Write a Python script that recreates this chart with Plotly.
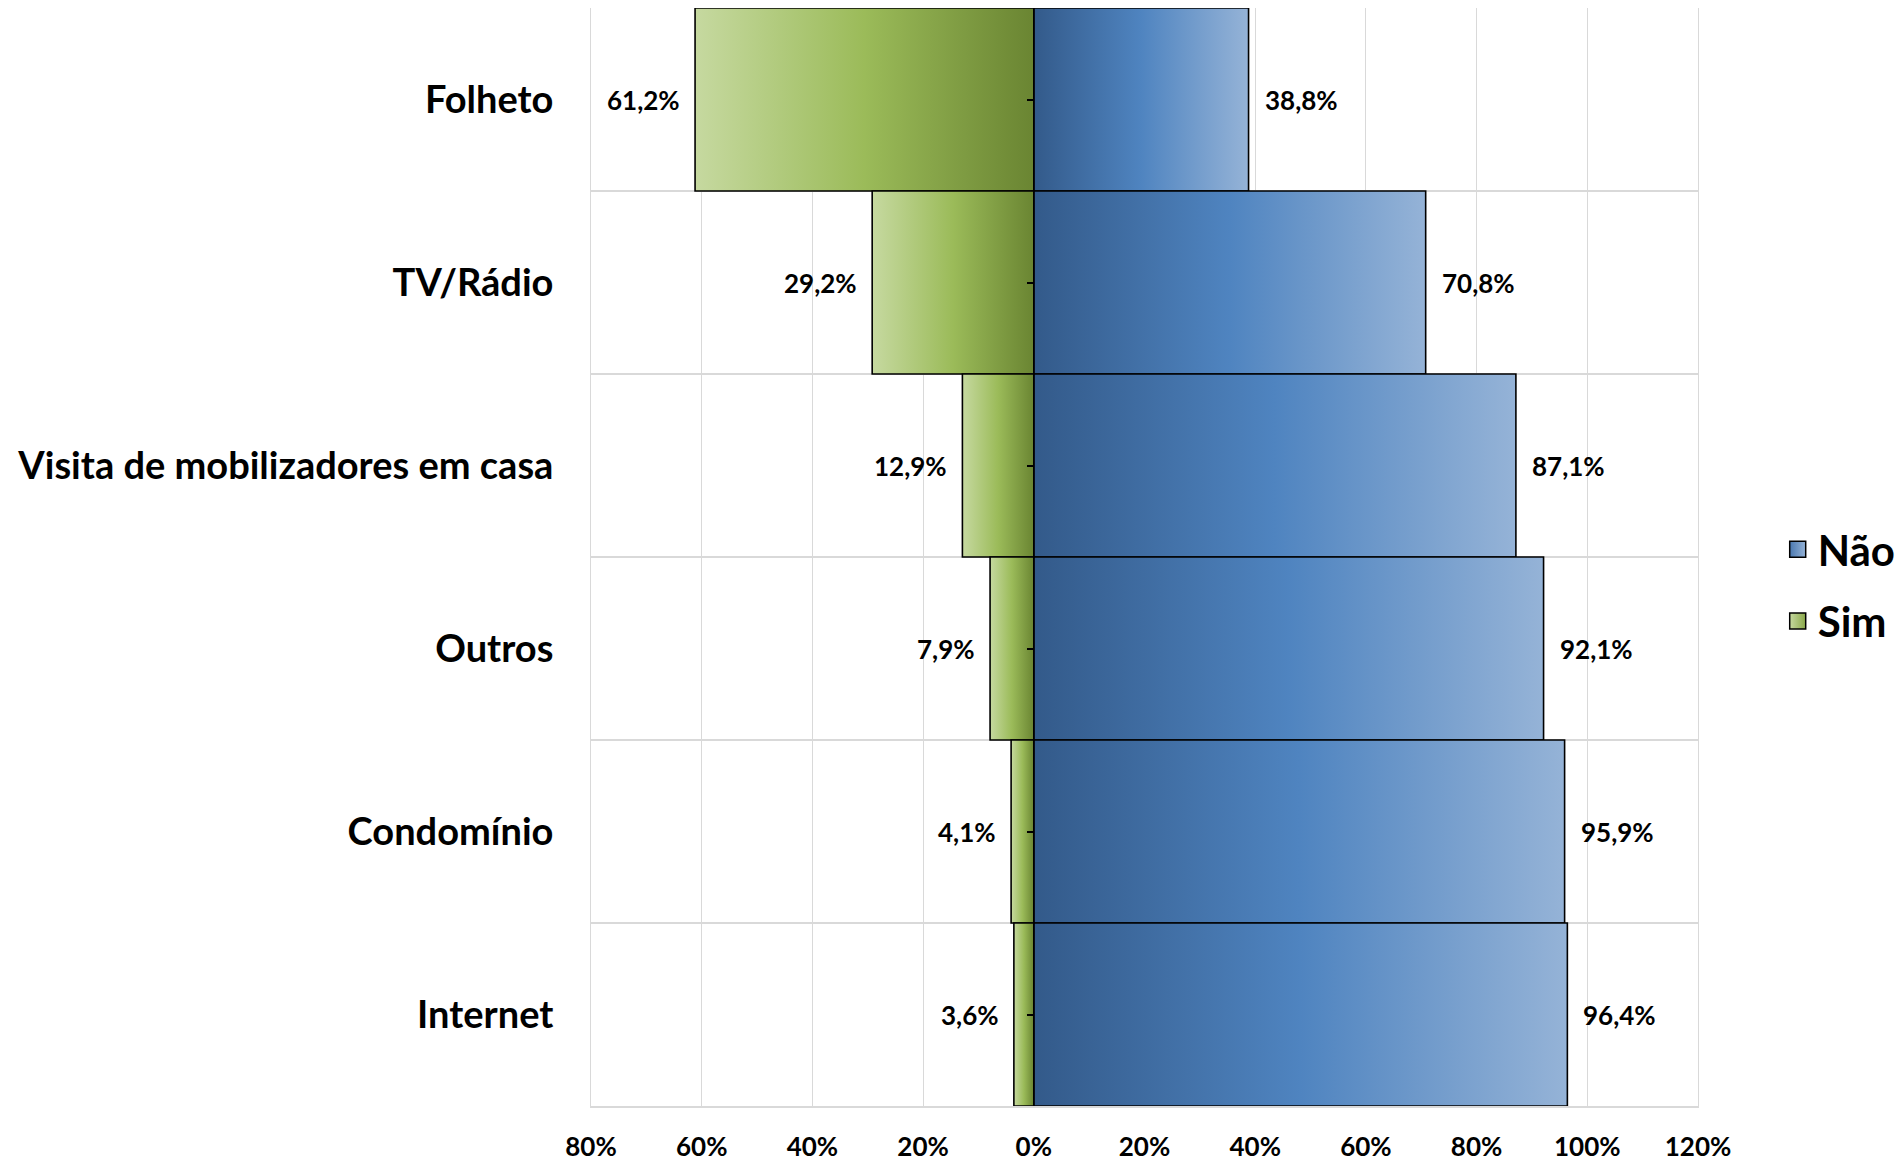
import plotly.graph_objects as go

# Dados (de cima para baixo)
categorias = ["Folheto", "TV/Rádio", "Visita de mobilizadores em casa", "Outros", "Condomínio", "Internet"]
sim = [61.2, 29.2, 12.9, 7.9, 4.1, 3.6]
nao = [38.8, 70.8, 87.1, 92.1, 95.9, 96.4]
x_ticks = [-80, -60, -40, -20, 0, 20, 40, 60, 80, 100, 120]
x_tick_labels = [f"{abs(v)}%" for v in x_ticks]

FONTE = "Lato"
verde = [[0, "#c6d9a0"], [0.5, "#9bbb59"], [1, "#6a8532"]]
azul = [[0, "#335a8a"], [0.5, "#4f84c0"], [1, "#95b3d7"]]
idx = list(range(len(categorias)))

fig = go.Figure()


def barra(valor, i, escala, nome):
    fig.add_trace(go.Scatter(
        x=[0, valor, valor, 0, 0],
        y=[i - 0.5, i - 0.5, i + 0.5, i + 0.5, i - 0.5],
        mode="lines", fill="toself",
        fillgradient=dict(type="horizontal", colorscale=escala),
        line=dict(color="black", width=1.6),
        name=nome, legendgroup=nome, showlegend=False,
        hoverinfo="skip",
    ))


for i, v in enumerate(nao):
    barra(v, i, azul, "Não")
for i, v in enumerate(sim):
    barra(-v, i, verde, "Sim")

# entradas da legenda (quadrados com degradê)
for nome, c1, c2 in [("Não", "#4a78b0", "#95b3d7"), ("Sim", "#c6d9a0", "#8aa84a")]:
    fig.add_trace(go.Scatter(
        x=[None], y=[None], mode="markers", name=nome, legendgroup=nome,
        marker=dict(symbol="square", size=22, color=c1,
                    gradient=dict(type="horizontal", color=c2),
                    line=dict(color="black", width=1.5)),
    ))

fmt = lambda v: f"{v:.1f}".replace(".", ",") + "%"
for i in idx:
    fig.add_annotation(x=-sim[i], y=i, text=f"<b>{fmt(sim[i])}</b>", showarrow=False,
                       xanchor="right", xshift=-13, font=dict(family=FONTE, size=26, color="black"))
    fig.add_annotation(x=nao[i], y=i, text=f"<b>{fmt(nao[i])}</b>", showarrow=False,
                       xanchor="left", xshift=14, font=dict(family=FONTE, size=26, color="black"))

# traço invisível para o eixo de marcas em 0%
fig.add_trace(go.Scatter(x=[0] * len(idx), y=idx, yaxis="y2", mode="markers",
                         marker=dict(opacity=0), showlegend=False, hoverinfo="skip"))

fig.update_layout(
    width=1903, height=1162,
    margin=dict(l=583, r=213, t=0, b=64),
    plot_bgcolor="white", paper_bgcolor="white",
    font=dict(family=FONTE, color="black"),
    xaxis=dict(range=[-80, 120], tickvals=x_ticks, ticktext=[f"<b>{t}</b>" for t in x_tick_labels],
               tickfont=dict(size=26), showgrid=True, gridcolor="#d9d9d9", gridwidth=1,
               zeroline=False, showline=True, linecolor="#d9d9d9", linewidth=1.5, mirror=True,
               ticks="", ticklabelstandoff=17, automargin=False),
    yaxis=dict(range=[5.5, -0.5], tickvals=idx, ticktext=[f"<b>{c}</b>" for c in categorias],
               tickfont=dict(size=38), showgrid=False, zeroline=False,
               showline=True, linecolor="#d9d9d9", linewidth=1, mirror=True,
               minor=dict(tickvals=[i - 0.5 for i in idx] + [5.5], showgrid=True,
                          gridcolor="#d9d9d9", gridwidth=1.5, ticks=""),
               ticks="", ticklabelstandoff=29, automargin=False),
    yaxis2=dict(range=[5.5, -0.5], overlaying="y", anchor="free", position=0.4,
                tickvals=idx, showticklabels=False, ticks="outside", ticklen=7,
                tickcolor="black", tickwidth=1.5, showgrid=False, zeroline=False, showline=False),
    legend=dict(x=1.072, y=0.474, xanchor="left", yanchor="middle",
                font=dict(size=42, weight="bold"), tracegroupgap=14, itemwidth=30),
    showlegend=True,
)

fig.write_html("out.html")
